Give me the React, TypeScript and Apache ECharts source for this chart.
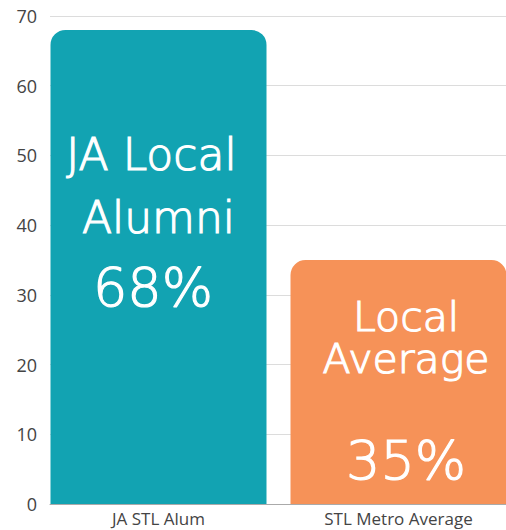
import React, { useEffect, useRef } from "react";
import * as echarts from "echarts";

const categories = ["JA STL Alum", "STL Metro Average"];
const values = [68, 35];
const barColors = ["#12A3B2", "#F69258"];
const yTicks = { min: 0, max: 70, interval: 10 };

const FONT = "'Open Sans', sans-serif";
const BIG = "'DejaVu Sans', sans-serif";

export default function App() {
  const ref = useRef<HTMLDivElement>(null);
  useEffect(() => {
    const chart = echarts.init(ref.current!, null, { renderer: "svg" });
    const base = {
      fontFamily: BIG,
      fontWeight: 200,
      color: "#fff",
      textBorderColor: "#fff",
      textBorderWidth: 1.2,
    };
    const labelRich = {
      a: { ...base, fontSize: 44, lineHeight: 63 },
      c: { ...base, fontSize: 54, lineHeight: 78, padding: [0, 11, 0, 0] },
      d: { ...base, fontSize: 41, lineHeight: 42 },
      e: { ...base, fontSize: 54, lineHeight: 161 },
    };
    chart.setOption({
      animation: false,
      grid: [
        { left: 38.5, width: 480, top: 16, bottom: 26 },
        { left: 50, right: 14, top: 16, bottom: 26 },
      ],
      xAxis: [
        {
          type: "category",
          gridIndex: 0,
          data: categories,
          axisLine: { show: false },
          axisTick: { show: false },
          axisLabel: { color: "#444", fontSize: 17, fontFamily: FONT, margin: 6 },
        },
        {
          type: "category",
          gridIndex: 1,
          data: categories,
          axisLine: { show: true, lineStyle: { color: "#aaa", width: 1 } },
          axisTick: { show: false },
          axisLabel: { show: false },
        },
      ],
      yAxis: [
        {
          type: "value",
          gridIndex: 0,
          min: yTicks.min,
          max: yTicks.max,
          interval: yTicks.interval,
          show: false,
          splitLine: { show: false },
        },
        {
          type: "value",
          gridIndex: 1,
          min: yTicks.min,
          max: yTicks.max,
          interval: yTicks.interval,
          axisLine: { show: false },
          axisTick: { show: false },
          axisLabel: { color: "#444", fontSize: 18, fontFamily: FONT, margin: 13 },
          splitLine: { lineStyle: { color: "#dcdcdc", width: 1 } },
        },
      ],
      series: [
        {
          type: "bar",
          xAxisIndex: 0,
          yAxisIndex: 0,
          barWidth: 216,
          data: values.map((v, i) => ({
            value: v,
            itemStyle: { color: barColors[i], borderRadius: [15, 15, 0, 0] },
            label:
              i === 0
                ? {
                    show: true,
                    position: ["50%", 93],
                    align: "center",
                    verticalAlign: "top",
                    formatter: "{a|JA Local }\n{a|Alumni}\n{c|68%}",
                    rich: labelRich,
                  }
                : {
                    show: true,
                    position: ["53.5%", 35.6],
                    align: "center",
                    verticalAlign: "top",
                    formatter: "{d|Local}\n{d|Average}\n{e|35%}",
                    rich: labelRich,
                  },
          })),
        },
      ],
    });
    return () => chart.dispose();
  }, []);
  return (
    <div
      ref={ref}
      style={{ position: "fixed", left: 0, top: 0, width: 520, height: 530, background: "#fff" }}
    />
  );
}
